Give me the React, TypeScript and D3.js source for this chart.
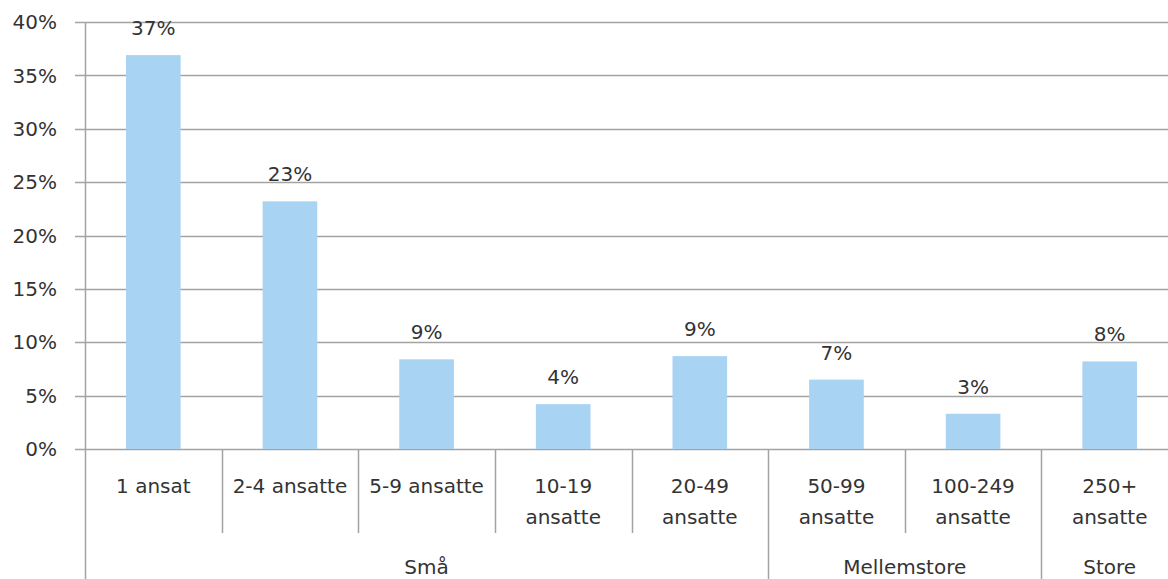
import React from "react";
import * as d3 from "d3";

const categories = ["1 ansat", "2-4 ansatte", "5-9 ansatte", "10-19 ansatte", "20-49 ansatte", "50-99 ansatte", "100-249 ansatte", "250+ ansatte"];
const categoryLines = [["1 ansat"], ["2-4 ansatte"], ["5-9 ansatte"], ["10-19", "ansatte"], ["20-49", "ansatte"], ["50-99", "ansatte"], ["100-249", "ansatte"], ["250+", "ansatte"]];
const values = [36.9, 23.2, 8.4, 4.2, 8.7, 6.5, 3.3, 8.2];
const valueLabels = ["37%", "23%", "9%", "4%", "9%", "7%", "3%", "8%"];
const groupNames = ["Små", "Mellemstore", "Store"];
const groupSpans = [5, 2, 1];
const yTicks = [0, 5, 10, 15, 20, 25, 30, 35, 40];

const W = 1168;
const H = 579;
const left = 85;
const right = 1178;
const top = 22;
const bottom = 449;
const font = "'DejaVu Sans', Verdana, sans-serif";
const textColor = "#333";
const gridColor = "#a3a3a3";

export default function App() {
  const xCell = d3.scaleBand<string>().domain(categories).range([left, right]).padding(0);
  const xBar = d3.scaleBand<string>().domain(categories).range([left, right]).paddingInner(0.6).paddingOuter(0.3);
  const y = d3.scaleLinear().domain([0, 40]).range([bottom, top]);

  const groupStarts: number[] = [];
  let acc = 0;
  groupSpans.forEach((s) => { groupStarts.push(acc); acc += s; });

  return (
    <>
      <style>{`body{margin:0}`}</style>
      <svg width={W} height={H} style={{ display: "block", background: "#fff" }} fontFamily={font}>
        {yTicks.map((t) => (
          <g key={t}>
            <line x1={75} x2={right} y1={Math.round(y(t)) + 0.5} y2={Math.round(y(t)) + 0.5} stroke={gridColor} strokeWidth={1.5} />
            <text x={57} y={y(t)} dy="0.36em" textAnchor="end" fontSize={20} fill={textColor}>{t}%</text>
          </g>
        ))}
        <line x1={left + 0.5} x2={left + 0.5} y1={top} y2={H} stroke={gridColor} strokeWidth={1.5} />
        {categories.map((c, i) => (
          <g key={c}>
            <rect x={xBar(c)} y={y(values[i])} width={xBar.bandwidth()} height={y(0) - y(values[i])} fill="#a9d3f3" />
            <text x={xBar(c)! + xBar.bandwidth() / 2} y={y(values[i]) - 20} textAnchor="middle" fontSize={20} fill={textColor}>{valueLabels[i]}</text>
            {categoryLines[i].map((ln, j) => (
              <text key={j} x={xCell(c)! + xCell.bandwidth() / 2} y={486 + j * 31} dy="0.36em" textAnchor="middle" fontSize={20} fill={textColor}>{ln}</text>
            ))}
          </g>
        ))}
        {categories.map((c, i) => {
          if (i === 0) return null;
          const isGroupStart = groupStarts.includes(i);
          const x = Math.round(xCell(c)!) + 0.5;
          return <line key={"sep" + c} x1={x} x2={x} y1={bottom} y2={isGroupStart ? H : 533} stroke={gridColor} strokeWidth={1.5} />;
        })}
        {groupNames.map((g, gi) => {
          const x0 = xCell(categories[groupStarts[gi]])!;
          const x1 = x0 + groupSpans[gi] * xCell.step();
          return (
            <text key={g} x={(x0 + x1) / 2} y={567} dy="0.36em" textAnchor="middle" fontSize={20} fill={textColor}>{g}</text>
          );
        })}
      </svg>
    </>
  );
}
